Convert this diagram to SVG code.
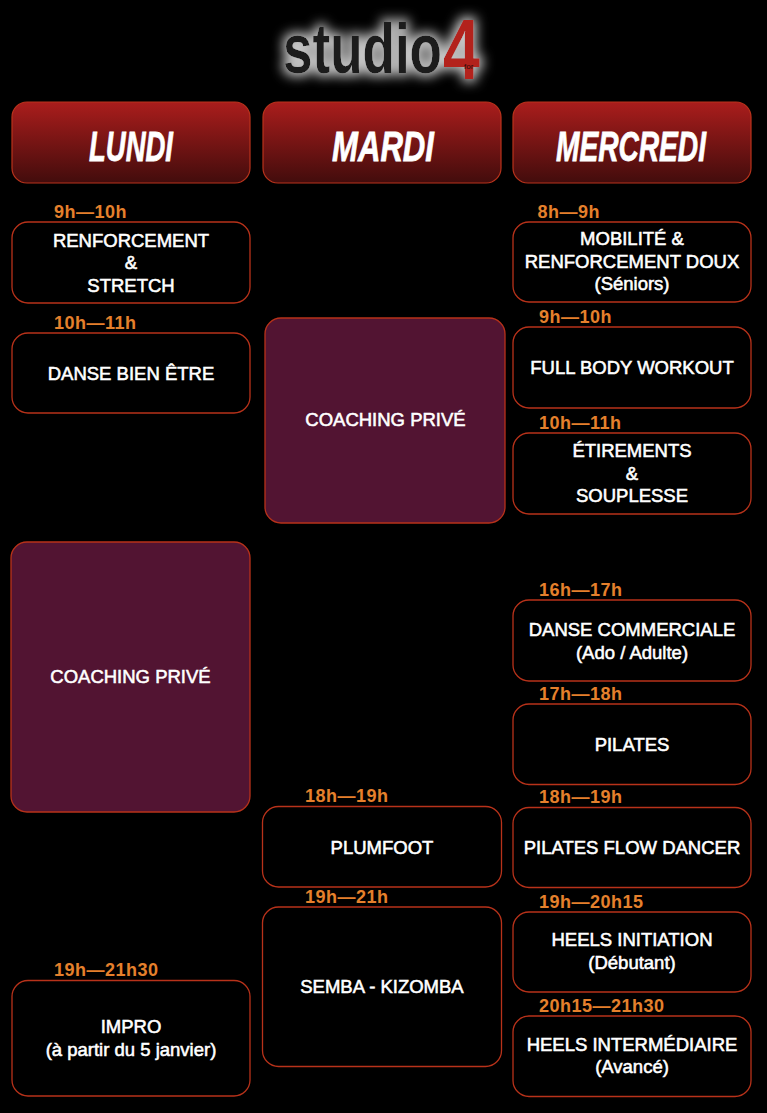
<svg xmlns="http://www.w3.org/2000/svg" width="767" height="1113" viewBox="0 0 767 1113">
<defs>
<linearGradient id="hdr" x1="0" y1="0" x2="0" y2="1">
<stop offset="0" stop-color="#aa1d1c"/>
<stop offset="1" stop-color="#420c0c"/>
</linearGradient>
<filter id="glow" x="-20%" y="-40%" width="140%" height="180%">
<feMorphology in="SourceAlpha" operator="dilate" radius="3" result="d"/>
<feFlood flood-color="#dcdcdc" flood-opacity="0.9"/>
<feComposite in2="d" operator="in"/>
<feGaussianBlur stdDeviation="6" result="g"/>
<feMerge><feMergeNode in="g"/><feMergeNode in="SourceGraphic"/></feMerge>
</filter>
</defs>
<style>
.hdr{fill:url(#hdr);stroke:#b9331c;stroke-width:1.2}
.day{font-family:"Liberation Sans",Arial,sans-serif;font-weight:bold;font-style:italic;font-size:43px;fill:#fff;stroke:#fff;stroke-width:0.8;text-anchor:middle}
.box{fill:#000;stroke:#b8321a;stroke-width:1.3}
.prv{fill:#521432;stroke:#b8321a;stroke-width:1.3}
.t{font-family:"Liberation Sans",Arial,sans-serif;font-size:18.5px;fill:#fff;stroke:#fff;stroke-width:0.55;text-anchor:middle}
.tm{font-family:"Liberation Sans",Arial,sans-serif;font-weight:bold;font-size:18px;letter-spacing:0.5px;fill:#e5802c}
</style>
<rect width="767" height="1113" fill="#000"/>

<g id="logo">
<g filter="url(#glow)">
<text x="283" y="73" font-family="Liberation Sans,Arial,sans-serif" font-weight="bold" font-size="70" fill="#1a1a1a" textLength="159" lengthAdjust="spacingAndGlyphs">studio</text>
<text x="443" y="79" font-family="Liberation Sans,Arial,sans-serif" font-weight="bold" font-size="86" fill="#b3201c" textLength="37" lengthAdjust="spacingAndGlyphs">4</text>
</g>
<text x="464" y="69" font-family="Liberation Sans,Arial,sans-serif" font-size="8" fill="#2a0a0a">for</text>
</g>

<g id="header-lundi">
<rect class="hdr" x="12" y="102" width="238" height="81" rx="15"/>
<text class="day" x="131" y="161" textLength="84" lengthAdjust="spacingAndGlyphs">LUNDI</text>
</g>
<g id="header-mardi">
<rect class="hdr" x="263" y="102" width="238" height="81" rx="15"/>
<text class="day" x="383" y="161" textLength="102" lengthAdjust="spacingAndGlyphs">MARDI</text>
</g>
<g id="header-mercredi">
<rect class="hdr" x="513" y="102" width="238" height="81" rx="15"/>
<text class="day" x="631" y="161" textLength="150" lengthAdjust="spacingAndGlyphs">MERCREDI</text>
</g>

<g id="connectors"></g>

<!-- LUNDI -->
<g id="lundi-renforcement">
<text class="tm" x="54" y="218">9h—10h</text>
<rect class="box" x="12" y="222" width="238" height="81" rx="16"/>
<text class="t" x="131" y="246.5">RENFORCEMENT</text>
<text class="t" x="131" y="269">&amp;</text>
<text class="t" x="131" y="291.5">STRETCH</text>
</g>
<g id="lundi-danse">
<text class="tm" x="54" y="329">10h—11h</text>
<rect class="box" x="12" y="333" width="238" height="80" rx="16"/>
<text class="t" x="131" y="379.5">DANSE BIEN ÊTRE</text>
</g>
<g id="lundi-coaching">
<rect class="prv" x="11" y="542" width="239" height="270" rx="16"/>
<text class="t" x="130.5" y="683">COACHING PRIVÉ</text>
</g>
<g id="lundi-impro">
<text class="tm" x="54" y="976">19h—21h30</text>
<rect class="box" x="12" y="980.5" width="238" height="115.5" rx="16"/>
<text class="t" x="131" y="1033">IMPRO</text>
<text class="t" x="131" y="1055.5">(à partir du 5 janvier)</text>
</g>

<!-- MARDI -->
<g id="mardi-coaching">
<rect class="prv" x="265" y="318" width="240" height="205" rx="16"/>
<text class="t" x="385.5" y="426">COACHING PRIVÉ</text>
</g>
<g id="mardi-plumfoot">
<text class="tm" x="305" y="802">18h—19h</text>
<rect class="box" x="262.5" y="806.5" width="239" height="80.5" rx="16"/>
<text class="t" x="382" y="853.5">PLUMFOOT</text>
</g>
<g id="mardi-semba">
<text class="tm" x="305" y="903">19h—21h</text>
<rect class="box" x="262.5" y="907" width="239" height="159.5" rx="16"/>
<text class="t" x="382" y="993">SEMBA - KIZOMBA</text>
</g>

<!-- MERCREDI -->
<g id="mercredi-mobilite">
<text class="tm" x="537.5" y="218">8h—9h</text>
<rect class="box" x="513" y="222" width="238" height="80" rx="16"/>
<text class="t" x="632" y="245">MOBILITÉ &amp;</text>
<text class="t" x="632" y="267.5">RENFORCEMENT DOUX</text>
<text class="t" x="632" y="290">(Séniors)</text>
</g>
<g id="mercredi-fullbody">
<text class="tm" x="539" y="323">9h—10h</text>
<rect class="box" x="513" y="327" width="238" height="81" rx="16"/>
<text class="t" x="632" y="374">FULL BODY WORKOUT</text>
</g>
<g id="mercredi-etirements">
<text class="tm" x="539" y="429">10h—11h</text>
<rect class="box" x="513" y="433" width="238" height="81" rx="16"/>
<text class="t" x="632" y="457">ÉTIREMENTS</text>
<text class="t" x="632" y="479.5">&amp;</text>
<text class="t" x="632" y="502">SOUPLESSE</text>
</g>
<g id="mercredi-commerciale">
<text class="tm" x="539" y="596">16h—17h</text>
<rect class="box" x="513" y="600" width="238" height="81" rx="16"/>
<text class="t" x="632" y="636">DANSE COMMERCIALE</text>
<text class="t" x="632" y="658.5">(Ado / Adulte)</text>
</g>
<g id="mercredi-pilates">
<text class="tm" x="539" y="700">17h—18h</text>
<rect class="box" x="513" y="704" width="238" height="80.5" rx="16"/>
<text class="t" x="632" y="750.5">PILATES</text>
</g>
<g id="mercredi-pilatesflow">
<text class="tm" x="539" y="803">18h—19h</text>
<rect class="box" x="513" y="807.5" width="238" height="80" rx="16"/>
<text class="t" x="632" y="854">PILATES FLOW DANCER</text>
</g>
<g id="mercredi-heels-init">
<text class="tm" x="539" y="908">19h—20h15</text>
<rect class="box" x="513" y="912" width="238" height="80" rx="16"/>
<text class="t" x="632" y="946">HEELS INITIATION</text>
<text class="t" x="632" y="968.5">(Débutant)</text>
</g>
<g id="mercredi-heels-inter">
<text class="tm" x="539" y="1012">20h15—21h30</text>
<rect class="box" x="513" y="1016" width="238" height="80.5" rx="16"/>
<text class="t" x="632" y="1050.5">HEELS INTERMÉDIAIRE</text>
<text class="t" x="632" y="1073">(Avancé)</text>
</g>
</svg>
